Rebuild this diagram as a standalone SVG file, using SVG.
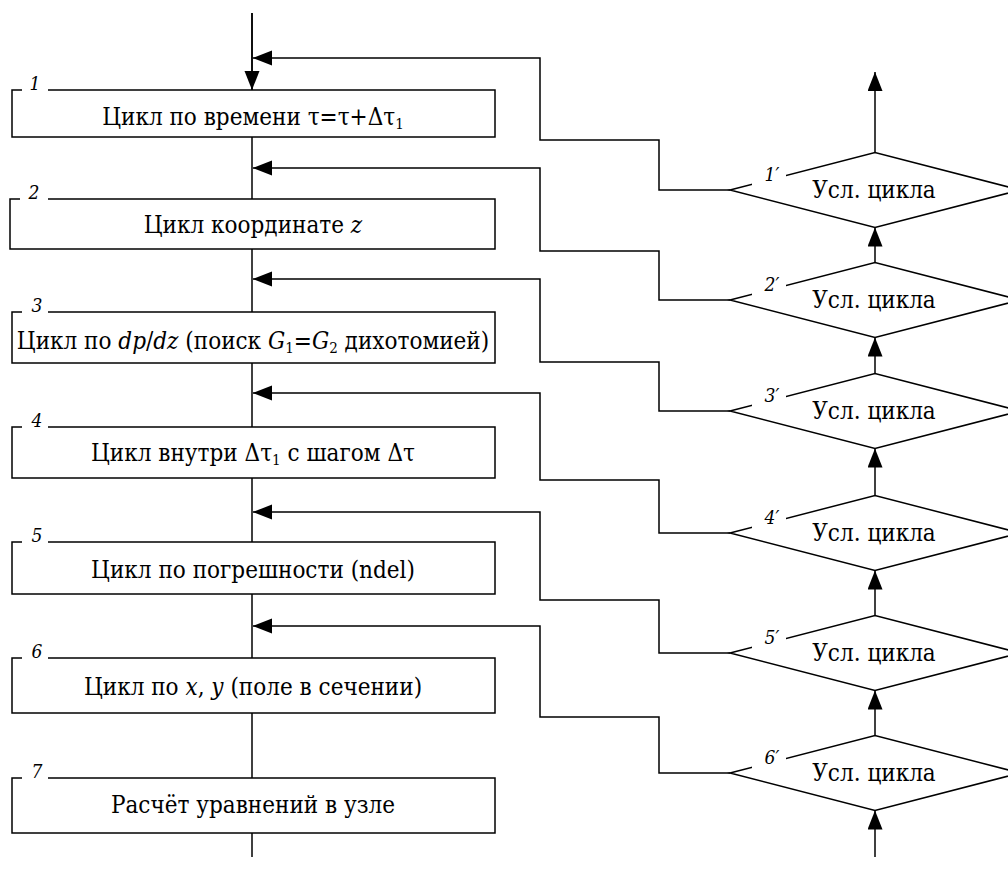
<svg xmlns="http://www.w3.org/2000/svg" width="1008" height="889" viewBox="0 0 1008 889">
<style>
.ln{fill:none;stroke:#000;stroke-width:1.5}
.box{fill:#fff;stroke:#000;stroke-width:1.5}
text{font-family:'DejaVu Serif Condensed','DejaVu Serif','Liberation Serif',serif;font-stretch:condensed;fill:#000}
.t{font-size:24px}
.sub{font-size:15px}
.num{font-size:19px;font-style:italic}
.bg{fill:#fff;stroke:none}
.i{font-style:italic}
</style>
<defs>
<marker id="ah" markerUnits="userSpaceOnUse" markerWidth="20" markerHeight="16" refX="19" refY="7.5" orient="auto">
<path d="M0,0 L19,7.5 L0,15 z" fill="#000"/>
</marker>
</defs>
<g id="connectors">
<line class="ln" x1="252" y1="13" x2="252" y2="857"/>
<line class="ln" x1="252" y1="13" x2="252" y2="90" marker-end="url(#ah)"/>
<line class="ln" x1="875" y1="152.5" x2="875" y2="72" marker-end="url(#ah)"/>
<line class="ln" x1="875" y1="262.5" x2="875" y2="227.5" marker-end="url(#ah)"/>
<line class="ln" x1="875" y1="373.5" x2="875" y2="337.5" marker-end="url(#ah)"/>
<line class="ln" x1="875" y1="495.5" x2="875" y2="448.5" marker-end="url(#ah)"/>
<line class="ln" x1="875" y1="615.5" x2="875" y2="570.5" marker-end="url(#ah)"/>
<line class="ln" x1="875" y1="735.5" x2="875" y2="690.5" marker-end="url(#ah)"/>
<line class="ln" x1="875" y1="857" x2="875" y2="810.5" marker-end="url(#ah)"/>
<path class="ln" d="M730,190 H659 V140 H540 V58 H253" marker-end="url(#ah)"/>
<path class="ln" d="M730,300 H659 V251 H540 V168 H253" marker-end="url(#ah)"/>
<path class="ln" d="M730,411 H659 V362 H540 V279 H253" marker-end="url(#ah)"/>
<path class="ln" d="M730,533 H659 V480 H540 V393 H253" marker-end="url(#ah)"/>
<path class="ln" d="M730,653 H659 V600 H540 V512 H253" marker-end="url(#ah)"/>
<path class="ln" d="M730,773 H659 V717 H540 V626 H253" marker-end="url(#ah)"/>
</g>
<g id="n1">
<rect class="box" x="12" y="90" width="483" height="47"/>
<rect class="bg" x="22" y="80" width="26" height="12"/>
<text class="num" x="35" y="90" text-anchor="middle">1</text>
<text class="t" x="253" y="125" text-anchor="middle">Цикл по времени τ=τ+Δτ<tspan class="sub" dy="4">1</tspan></text>
</g>
<g id="n2">
<rect class="box" x="10" y="199" width="485" height="50"/>
<rect class="bg" x="20" y="189" width="28" height="12"/>
<text class="num" x="34" y="199" text-anchor="middle">2</text>
<text class="t" x="253" y="233" text-anchor="middle">Цикл координате <tspan class="i">z</tspan></text>
</g>
<g id="n3">
<rect class="box" x="12" y="312" width="483" height="51"/>
<rect class="bg" x="22" y="302" width="26" height="12"/>
<text class="num" x="37" y="312" text-anchor="middle">3</text>
<text class="t" x="253" y="349" text-anchor="middle">Цикл по <tspan class="i">dp</tspan>/<tspan class="i">dz</tspan> (поиск <tspan class="i">G</tspan><tspan class="sub" dy="4">1</tspan><tspan dy="-4">=</tspan><tspan class="i">G</tspan><tspan class="sub" dy="4">2</tspan><tspan dy="-4"> дихотомией)</tspan></text>
</g>
<g id="n4">
<rect class="box" x="12" y="427" width="483" height="51"/>
<rect class="bg" x="22" y="417" width="26" height="12"/>
<text class="num" x="37" y="427" text-anchor="middle">4</text>
<text class="t" x="253" y="461" text-anchor="middle">Цикл внутри Δτ<tspan class="sub" dy="4">1</tspan><tspan dy="-4"> с шагом Δτ</tspan></text>
</g>
<g id="n5">
<rect class="box" x="12" y="542" width="483" height="52"/>
<rect class="bg" x="22" y="532" width="26" height="12"/>
<text class="num" x="37" y="542" text-anchor="middle">5</text>
<text class="t" x="253" y="578" text-anchor="middle">Цикл по погрешности (ndel)</text>
</g>
<g id="n6">
<rect class="box" x="12" y="658" width="483" height="55"/>
<rect class="bg" x="22" y="648" width="26" height="12"/>
<text class="num" x="37" y="658" text-anchor="middle">6</text>
<text class="t" x="253" y="695" text-anchor="middle">Цикл по <tspan class="i">x</tspan>, <tspan class="i">y</tspan> (поле в сечении)</text>
</g>
<g id="n7">
<rect class="box" x="12" y="778" width="483" height="55"/>
<rect class="bg" x="22" y="768" width="26" height="12"/>
<text class="num" x="37" y="778" text-anchor="middle">7</text>
<text class="t" x="253" y="813" text-anchor="middle">Расчёт уравнений в узле</text>
</g>
<g id="d1">
<polygon class="box" points="730,190 875,152.5 1020,190 875,227.5"/>
<rect class="bg" x="752" y="160" width="34" height="26"/>
<text class="num" x="772" y="181" text-anchor="middle">1′</text>
<text class="t" x="874" y="198" text-anchor="middle">Усл. цикла</text>
</g>
<g id="d2">
<polygon class="box" points="730,300 875,262.5 1020,300 875,337.5"/>
<rect class="bg" x="752" y="270" width="34" height="26"/>
<text class="num" x="772" y="291" text-anchor="middle">2′</text>
<text class="t" x="874" y="308" text-anchor="middle">Усл. цикла</text>
</g>
<g id="d3">
<polygon class="box" points="730,411 875,373.5 1020,411 875,448.5"/>
<rect class="bg" x="752" y="381" width="34" height="26"/>
<text class="num" x="772" y="402" text-anchor="middle">3′</text>
<text class="t" x="874" y="419" text-anchor="middle">Усл. цикла</text>
</g>
<g id="d4">
<polygon class="box" points="730,533 875,495.5 1020,533 875,570.5"/>
<rect class="bg" x="752" y="503" width="34" height="26"/>
<text class="num" x="772" y="524" text-anchor="middle">4′</text>
<text class="t" x="874" y="541" text-anchor="middle">Усл. цикла</text>
</g>
<g id="d5">
<polygon class="box" points="730,653 875,615.5 1020,653 875,690.5"/>
<rect class="bg" x="752" y="623" width="34" height="26"/>
<text class="num" x="772" y="644" text-anchor="middle">5′</text>
<text class="t" x="874" y="661" text-anchor="middle">Усл. цикла</text>
</g>
<g id="d6">
<polygon class="box" points="730,773 875,735.5 1020,773 875,810.5"/>
<rect class="bg" x="752" y="743" width="34" height="26"/>
<text class="num" x="772" y="764" text-anchor="middle">6′</text>
<text class="t" x="874" y="781" text-anchor="middle">Усл. цикла</text>
</g>
</svg>
